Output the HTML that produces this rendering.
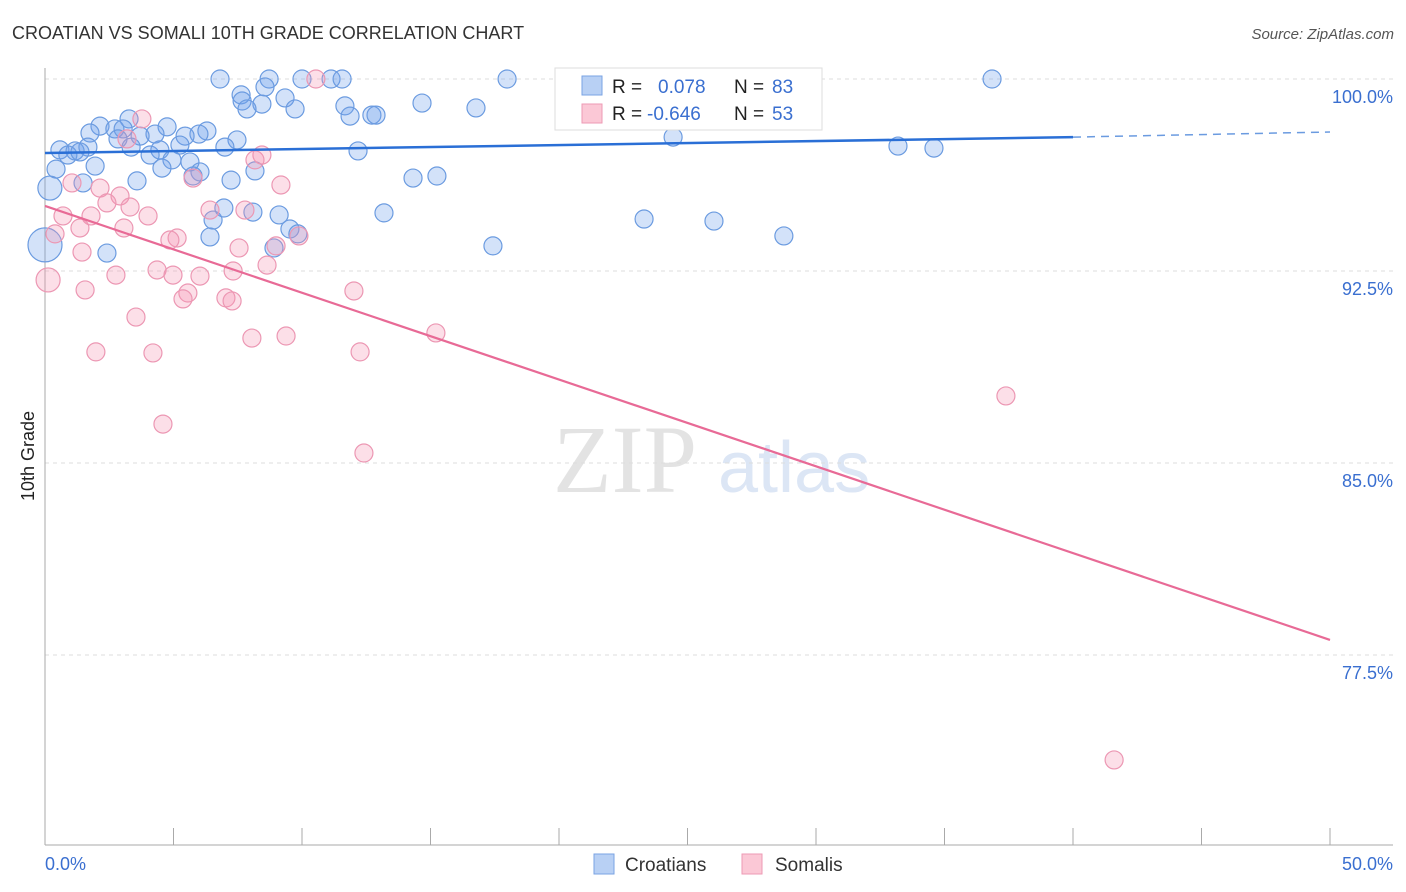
<!DOCTYPE html>
<html><head><meta charset="utf-8"><style>
body{margin:0;background:#fff;font-family:"Liberation Sans",sans-serif;}
svg{display:block}
</style></head><body>
<svg id="chart" width="1406" height="892">
<text x="12" y="39" font-size="18" fill="#333">CROATIAN VS SOMALI 10TH GRADE CORRELATION CHART</text>
<text x="1394" y="39" font-size="15" fill="#555" font-style="italic" text-anchor="end">Source: ZipAtlas.com</text>
<g>
<text x="553" y="492" font-size="96" fill="#e3e3e3" font-family="Liberation Serif,serif">ZIP</text>
<text x="718" y="492" font-size="72" fill="#dce6f5">atlas</text>
</g>
<g id="grid"></g>
<g id="axes"></g>
<g id="marks"></g>
<text transform="translate(34,456) rotate(-90)" font-size="18" fill="#222" text-anchor="middle">10th Grade</text>
<g>
<rect x="555" y="68" width="267" height="62" fill="#fff" stroke="#ddd"/>
<rect x="582" y="76" width="20" height="19" fill="#b8d0f4" stroke="#7aa3e3"/>
<rect x="582" y="104" width="20" height="19" fill="#fbc8d6" stroke="#ee9ab4"/>
<text x="612" y="93" font-size="19" fill="#222">R =</text>
<text x="658" y="93" font-size="19" fill="#3a6fd0">0.078</text>
<text x="734" y="93" font-size="19" fill="#222">N =</text>
<text x="772" y="93" font-size="19" fill="#3a6fd0">83</text>
<text x="612" y="120" font-size="19" fill="#222">R =</text>
<text x="647" y="120" font-size="19" fill="#3a6fd0">-0.646</text>
<text x="734" y="120" font-size="19" fill="#222">N =</text>
<text x="772" y="120" font-size="19" fill="#3a6fd0">53</text>
</g>
<g>
<rect x="594" y="854" width="20" height="20" fill="#b8d0f4" stroke="#7aa3e3"/>
<text x="625" y="871" font-size="19" fill="#333">Croatians</text>
<rect x="742" y="854" width="20" height="20" fill="#fbc8d6" stroke="#ee9ab4"/>
<text x="775" y="871" font-size="19" fill="#333">Somalis</text>
</g>
</svg>
<script>
const blueX=[6.81,8.72,10.0,11.13,11.56,17.98,36.85,22.26,7.63,8.56,7.67,8.44,9.34,9.73,7.86,11.67,11.87,12.72,12.88,14.67,16.77,22.49,3.27,2.14,2.72,3.04,1.75,4.75,6.30,5.99,4.28,5.45,2.84,3.70,7.47,24.44,0.58,1.17,1.67,0.89,1.36,3.35,4.09,4.47,5.25,7.0,4.94,5.64,4.55,6.03,1.95,0.43,12.18,33.19,34.59,0.19,1.48,3.58,7.24,5.76,8.17,14.32,15.25,2.41,6.42,6.54,6.96,8.09,9.11,9.53,9.84,8.91,13.19,17.43,23.31,26.03,28.75,0.0];
const blueY=[100,100,100,100,100,100,100,100,99.38,99.69,99.14,99.02,99.26,98.83,98.83,98.95,98.55,98.59,98.59,99.06,98.87,99.02,98.44,98.16,98.05,98.05,97.89,98.13,97.97,97.85,97.85,97.77,97.66,97.77,97.62,97.73,97.23,97.19,97.34,97.03,97.15,97.34,97.03,97.23,97.42,97.34,96.84,96.76,96.52,96.37,96.6,96.48,97.19,97.38,97.3,95.74,95.94,96.02,96.05,96.21,96.41,96.13,96.21,93.2,93.83,94.49,94.96,94.8,94.69,94.14,93.95,93.4,94.77,93.48,94.53,94.45,93.87,93.52];
const pinkX=[10.54,3.77,3.19,8.44,8.17,5.76,2.14,1.05,2.92,9.18,3.31,2.41,4.01,0.7,1.79,1.36,3.07,0.39,6.42,7.78,5.14,4.86,9.88,8.99,7.55,4.36,4.98,6.03,7.32,8.64,1.56,2.76,5.56,5.37,7.04,7.28,3.54,12.02,1.98,4.2,8.05,9.38,12.26,15.21,4.59,12.41,37.39,41.6,0.12,1.44];
const pinkY=[100,98.44,97.66,97.03,96.84,96.13,95.74,95.94,95.43,95.86,95.0,95.16,94.65,94.65,94.65,94.18,94.18,93.95,94.88,94.88,93.79,93.71,93.87,93.48,93.4,92.54,92.34,92.3,92.5,92.73,91.76,92.34,91.64,91.41,91.45,91.33,90.7,91.72,89.34,89.3,89.88,89.96,89.34,90.08,86.52,85.39,87.62,73.4,92.15,93.24];
const blueTrend=[[0,97.11],[40,97.73]];
const blueTrendExt=[[40,97.73],[50,97.93]];
const pinkTrend=[[0,95.04],[50,78.09]];
const yTicks=[100,92.5,85,77.5];
const yTickLabels=["100.0%","92.5%","85.0%","77.5%"];
const xTicks=[0,5,10,15,20,25,30,35,40,45,50];
const xEndLabels=["0.0%","50.0%"];

const NS="http://www.w3.org/2000/svg";
const X=v=>45+v*25.7;
const Y=v=>79+(100-v)*25.6;
function mk(tag,attrs,parent){const e=document.createElementNS(NS,tag);for(const k in attrs)e.setAttribute(k,attrs[k]);parent.appendChild(e);return e;}
const grid=document.getElementById('grid'),axes=document.getElementById('axes'),marks=document.getElementById('marks');
yTicks.forEach((t,i)=>{
  const l=mk('line',{x1:45,x2:1393,y1:Y(t),y2:Y(t),stroke:'#ddd','stroke-dasharray':'4,4'},grid);
  
  
  const tx=mk('text',{x:1393,y:Y(t)+24,'font-size':18,fill:'#3a6fd0','text-anchor':'end'},grid);
  tx.textContent=yTickLabels[i];
  
  
});
const ya=mk('line',{x1:45,x2:45,y1:68,y2:845,stroke:'#aaa'},axes);


const xa=mk('line',{x1:45,x2:1393,y1:845,y2:845,stroke:'#aaa'},axes);


xTicks.forEach(t=>{
  const l=mk('line',{x1:X(t),x2:X(t),y1:828,y2:845,stroke:'#aaa'},axes);
  
  
});
const xl0=mk('text',{x:45,y:870,'font-size':18,fill:'#3a6fd0'},axes);
xl0.textContent=xEndLabels[0];


const xl1=mk('text',{x:1393,y:870,'font-size':18,fill:'#3a6fd0','text-anchor':'end'},axes);
xl1.textContent=xEndLabels[1];



blueX.forEach((v,i)=>{
  const big=(v===0&&blueY[i]<94)?17:(i===55?12:9);
  const c=mk('circle',{cx:X(v),cy:Y(blueY[i]),r:big,fill:'rgba(110,160,235,0.3)',stroke:'#6b9be0','stroke-width':1.2},marks);
  
  
});
pinkX.forEach((v,i)=>{
  const r=(i===48)?12:9;
  const c=mk('circle',{cx:X(v),cy:Y(pinkY[i]),r:r,fill:'rgba(245,150,180,0.3)',stroke:'#ec97b3','stroke-width':1.2},marks);
  
  
});
const bt=mk('line',{x1:X(blueTrend[0][0]),y1:Y(blueTrend[0][1]),x2:X(blueTrend[1][0]),y2:Y(blueTrend[1][1]),stroke:'#2a6fd6','stroke-width':2.5},marks);


const be=mk('line',{x1:X(blueTrendExt[0][0]),y1:Y(blueTrendExt[0][1]),x2:X(blueTrendExt[1][0]),y2:Y(blueTrendExt[1][1]),stroke:'#6b9be0','stroke-width':1.5,'stroke-dasharray':'8,6'},marks);


const pt=mk('line',{x1:X(pinkTrend[0][0]),y1:Y(pinkTrend[0][1]),x2:X(pinkTrend[1][0]),y2:Y(pinkTrend[1][1]),stroke:'#e86a96','stroke-width':2.2},marks);


</script>
</body></html>
